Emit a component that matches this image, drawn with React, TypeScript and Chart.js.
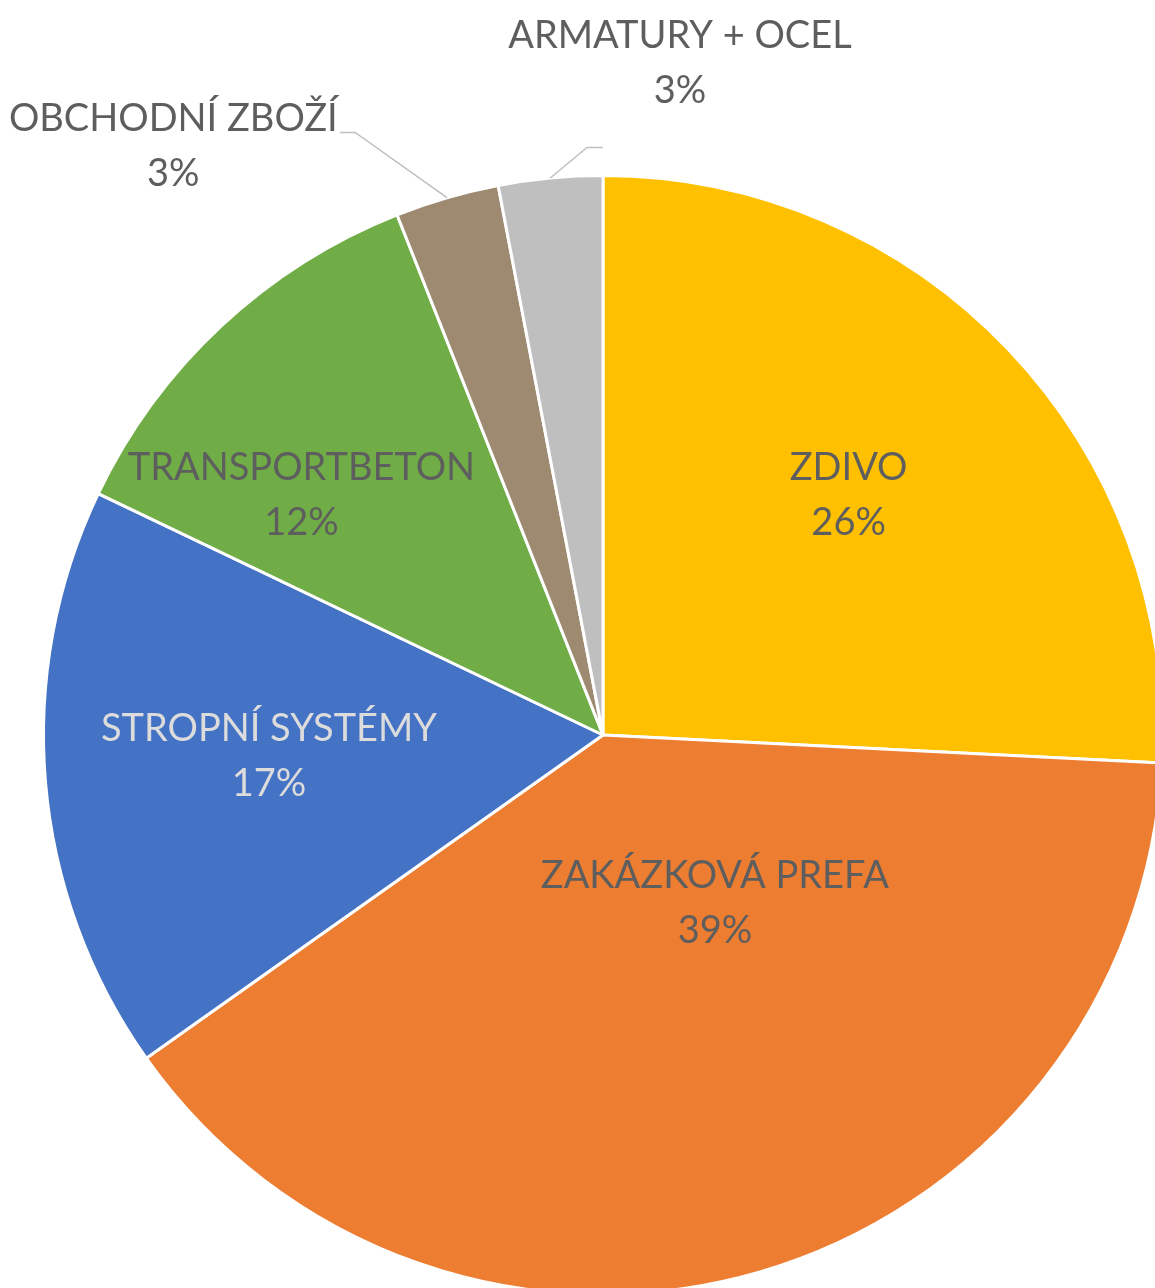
import { useEffect, useRef } from "react";
import { Chart, registerables } from "chart.js";

Chart.register(...registerables);

// ---- data ----
const categories = [
  "ZDIVO",
  "ZAKÁZKOVÁ PREFA",
  "STROPNÍ SYSTÉMY",
  "TRANSPORTBETON",
  "OBCHODNÍ ZBOŽÍ",
  "ARMATURY + OCEL",
];
const shares = [25.8, 39.4, 16.9, 11.9, 3.0, 3.0];
const percentLabels = ["26%", "39%", "17%", "12%", "3%", "3%"];

// ---- styles ----
const sliceColors = ["#FFC000", "#ED7D31", "#4472C4", "#70AD47", "#9E8A70", "#BFBFBF"];
const labelColors = ["#5E5E5E", "#5E5E5E", "#DCDCDC", "#5E5E5E", "#5E5E5E", "#5E5E5E"];
// label centre offsets, in units of the pie radius, from the pie centre
const labelOffsets: [number, number][] = [
  [0.439, -0.429],
  [0.2, 0.3],
  [-0.597, 0.038],
  [-0.539, -0.429],
  [-0.768, -1.052],
  [0.1375, -1.201],
];
// leader lines: [elbow, end] offsets (radius units), null = no leader
const leaders: ([number, number][] | null)[] = [
  null,
  null,
  null,
  null,
  [
    [-0.443, -1.077],
    [-0.47, -1.077],
  ],
  [
    [-0.0286, -1.05],
    [0, -1.05],
  ],
];

const FONT_FAMILY = "Lato, 'Open Sans', sans-serif";
const FONT_SIZE = 38;
const LINE_GAP = 55;

const labelPlugin = {
  id: "sliceLabels",
  afterDraw(chart: any) {
    const ctx = chart.ctx as CanvasRenderingContext2D;
    const meta = chart.getDatasetMeta(0);
    ctx.save();
    meta.data.forEach((arc: any, i: number) => {
      const { x, y, outerRadius, startAngle, endAngle } = arc.getProps(
        ["x", "y", "outerRadius", "startAngle", "endAngle"],
        true
      );
      const R = outerRadius;
      const ld = leaders[i];
      if (ld) {
        const mid = (startAngle + endAngle) / 2;
        ctx.beginPath();
        ctx.moveTo(x + Math.cos(mid) * R, y + Math.sin(mid) * R);
        ld.forEach(([fx, fy]) => ctx.lineTo(x + fx * R, y + fy * R));
        ctx.strokeStyle = "#BFBFBF";
        ctx.lineWidth = 1.5;
        ctx.stroke();
      }
      const [ox, oy] = labelOffsets[i];
      const cx = x + ox * R;
      const cy = y + oy * R;
      ctx.font = `${FONT_SIZE}px ${FONT_FAMILY}`;
      ctx.fillStyle = labelColors[i];
      ctx.textAlign = "center";
      ctx.textBaseline = "middle";
      ctx.fillText(categories[i], cx, cy - LINE_GAP / 2);
      ctx.fillText(percentLabels[i], cx, cy + LINE_GAP / 2);
    });
    ctx.restore();
  },
};

export default function App() {
  const ref = useRef<HTMLCanvasElement | null>(null);
  useEffect(() => {
    if (!ref.current) return;
    const chart = new Chart(ref.current, {
      type: "pie",
      data: {
        labels: categories,
        datasets: [
          {
            data: shares,
            backgroundColor: sliceColors,
            borderColor: "#FFFFFF",
            borderWidth: 3,
          },
        ],
      },
      options: {
        responsive: false,
        animation: false,
        layout: { padding: { left: 42, top: 174, right: 136, bottom: 104 } },
        plugins: {
          legend: { display: false },
          tooltip: { enabled: false },
        },
      },
      plugins: [labelPlugin],
    });
    return () => chart.destroy();
  }, []);
  return (
    <div
      style={{
        position: "absolute",
        left: 0,
        top: 0,
        width: 1155,
        height: 1288,
        overflow: "hidden",
        background: "#FFFFFF",
      }}
    >
      <canvas ref={ref} width={1300} height={1400} style={{ width: 1300, height: 1400 }} />
    </div>
  );
}
